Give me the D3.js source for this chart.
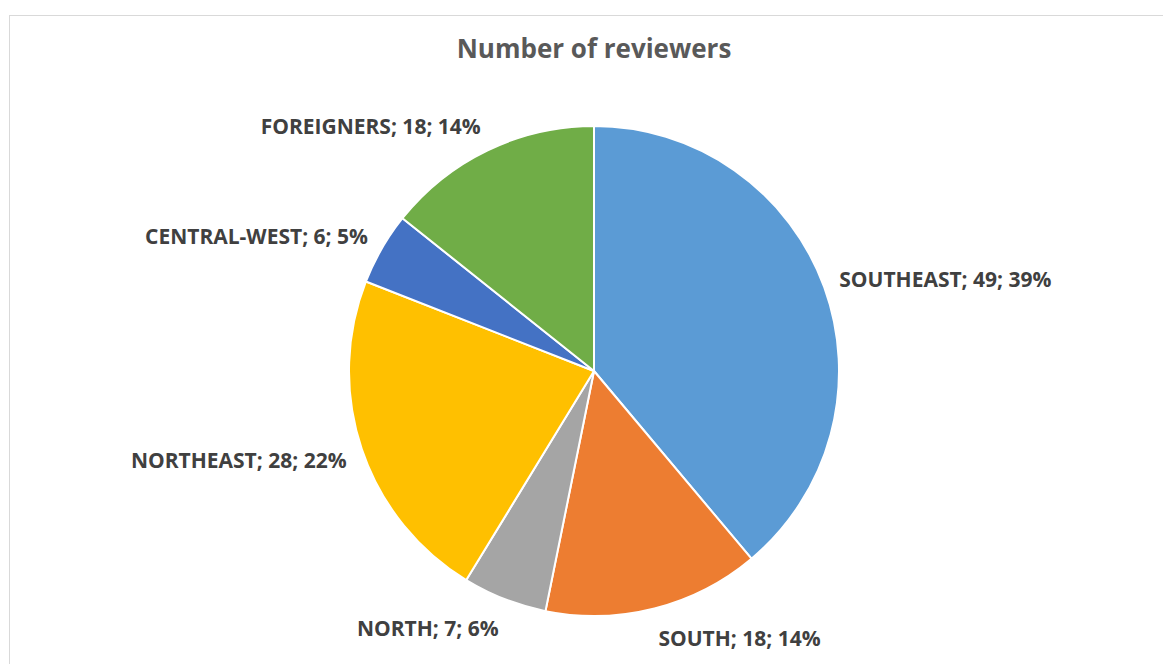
<!DOCTYPE html>
<html>
<head>
<meta charset="utf-8">
<script src="https://cdn.jsdelivr.net/npm/d3@7"></script>
<style>
  html, body { margin: 0; padding: 0; background: #fff; }
  svg { display: block; }
</style>
</head>
<body>
<svg id="chart" width="1163" height="664"></svg>
<script>
// Chart data
const regions = ['SOUTHEAST', 'SOUTH', 'NORTH', 'NORTHEAST', 'CENTRAL-WEST', 'FOREIGNERS'];
const reviewers = [49, 18, 7, 28, 6, 18];
const sliceColors = ['#5B9BD5', '#ED7D31', '#A5A5A5', '#FFC000', '#4472C4', '#70AD47'];
const chartTitle = 'Number of reviewers';

const width = 1163, height = 664;
const cx = 594, cy = 371, radius = 245;
const labelRadius = 261;
const fontFamily = '"Open Sans", "Liberation Sans", sans-serif';

const svg = d3.select('#chart');

// Chart area frame (runs off the right and bottom edge)
svg.append('rect')
    .attr('x', 9.5).attr('y', 15.5)
    .attr('width', width).attr('height', height)
    .attr('fill', '#fff')
    .attr('stroke', '#d9d9d9')
    .attr('stroke-width', 1);

// Title
svg.append('text')
    .attr('x', cx).attr('y', 58)
    .attr('text-anchor', 'middle')
    .style('font-family', fontFamily)
    .style('font-size', '26px')
    .style('font-weight', 'bold')
    .attr('fill', '#595959')
    .text(chartTitle);

const data = regions.map((r, i) => ({ region: r, value: reviewers[i], color: sliceColors[i] }));
const total = d3.sum(reviewers);

const pie = d3.pie().sort(null).value(d => d.value);
const arc = d3.arc().innerRadius(0).outerRadius(radius);
const arcs = pie(data);

const g = svg.append('g').attr('transform', `translate(${cx},${cy})`);

// Slices
g.selectAll('path.slice')
    .data(arcs)
    .enter().append('path')
    .attr('class', 'slice')
    .attr('d', arc)
    .attr('fill', d => d.data.color)
    .attr('stroke', '#fff')
    .attr('stroke-width', 2)
    .attr('stroke-linejoin', 'round');

// Labels outside the pie: the label edge facing the pie sits on a
// circle just outside it, vertical offset follows the slice direction
const labels = g.selectAll('text.lbl')
    .data(arcs)
    .enter().append('text')
    .attr('class', 'lbl')
    .style('font-family', fontFamily)
    .style('font-size', '21px')
    .style('font-weight', 'bold')
    .attr('fill', '#404040')
    .text(d => `${d.data.region}; ${d.data.value}; ${Math.round(d.data.value / total * 100)}%`);

labels.each(function(d) {
    const a = (d.startAngle + d.endAngle) / 2;
    const px = labelRadius * Math.sin(a);
    const py = -labelRadius * Math.cos(a);
    d3.select(this)
        .attr('x', px)
        .attr('y', py - 13 * Math.cos(a) + 9.5)
        .attr('text-anchor', Math.sin(a) >= 0 ? 'start' : 'end');
});
</script>
</body>
</html>
